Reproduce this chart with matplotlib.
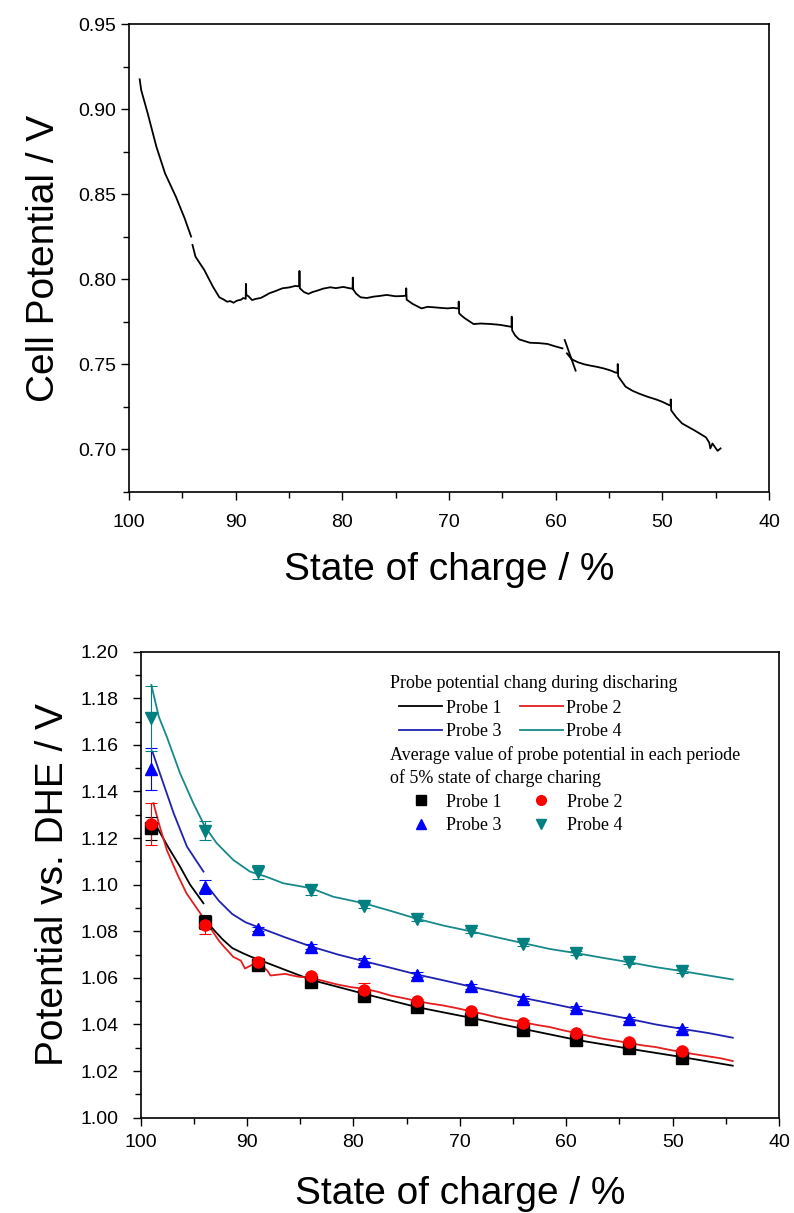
import numpy as np
import matplotlib
matplotlib.use("Agg")
import matplotlib.pyplot as plt
from matplotlib.lines import Line2D
from matplotlib.ticker import MultipleLocator, FormatStrFormatter

nan = np.nan

# ---- top panel: cell potential during discharge ----
cell_soc = [99.0, 98.86, 98.25, 97.43, 96.62, 95.6, 94.79, 94.18, nan,
            94.05, 93.77, 92.95, 92.14, 91.53, 91.1, 90.8, 90.51, 90.2, 89.9,
            89.5, 89.29, 89.06, 89.04, 89.0, 88.8, 88.47, 88.1, 87.66, 87.2,
            86.84, 86.3, 85.62, 85.0, 84.4, 84.05, 84.02, 83.98, 83.6, 83.18,
            82.8, 82.36, 81.8, 81.14, 80.6, 79.92, 79.3, 79.04, 79.02, 78.98,
            78.7, 78.29, 77.7, 77.07, 76.5, 75.85, 75.0, 74.22, 74.03, 74.01,
            73.97, 73.7, 73.4, 72.59, 72.0, 71.37, 70.8, 70.14, 69.6, 69.25,
            69.11, 69.09, 69.05, 68.8, 68.52, 67.7, 67.0, 66.07, 65.2, 64.28,
            64.14, 64.12, 64.08, 63.8, 63.43, 62.41, 61.6, 60.78, 60.0, 59.36,
            nan, 59.15, 58.13, nan,
            58.95, 58.5, 57.9, 57.3, 56.7, 56.1, 55.48, 54.9, 54.34, 54.2,
            54.18, 54.14, 53.8, 53.45, 52.8, 52.22, 51.4, 50.59, 50.0, 49.37,
            49.23, 49.21, 49.17, 48.7, 48.15, 47.5, 46.93, 46.4, 45.91, 45.6,
            45.5, 45.3, 44.82, 44.54]
cell_v = [0.9175, 0.9112, 0.8975, 0.8778, 0.8622, 0.8484, 0.8359, 0.8251, nan,
          0.8202, 0.8133, 0.8055, 0.7957, 0.7894, 0.7880, 0.7868, 0.7872, 0.7862, 0.7874,
          0.7880, 0.7890, 0.7885, 0.7973, 0.7908, 0.7900, 0.7878, 0.7885, 0.7890, 0.7905,
          0.7918, 0.7930, 0.7947, 0.7952, 0.7961, 0.7958, 0.8049, 0.7947, 0.7925, 0.7914,
          0.7925, 0.7933, 0.7945, 0.7953, 0.7948, 0.7955, 0.7947, 0.7945, 0.8010, 0.7940,
          0.7915, 0.7894, 0.7890, 0.7898, 0.7902, 0.7908, 0.7900, 0.7902, 0.7905, 0.7947,
          0.7880, 0.7868, 0.7855, 0.7829, 0.7838, 0.7835, 0.7832, 0.7829, 0.7832, 0.7829,
          0.7830, 0.7869, 0.7800, 0.7785, 0.7771, 0.7737, 0.7740, 0.7737, 0.7732, 0.7722,
          0.7720, 0.7780, 0.7700, 0.7670, 0.7647, 0.7627, 0.7625, 0.7620, 0.7605, 0.7594,
          nan, 0.7643, 0.7463, nan,
          0.7565, 0.7530, 0.7512, 0.7500, 0.7492, 0.7485, 0.7476, 0.7465, 0.7451, 0.7450,
          0.7502, 0.7430, 0.7400, 0.7369, 0.7345, 0.7329, 0.7310, 0.7294, 0.7280, 0.7261,
          0.7258, 0.7294, 0.7230, 0.7190, 0.7153, 0.7130, 0.7110, 0.7090, 0.7071, 0.7040,
          0.7006, 0.7035, 0.6992, 0.7006]

# ---- bottom panel: probe potentials ----
p1_soc = [98.5, 97.4, 96.3, 95.36, 94.1, nan, 94.0, 93.5, 93.07, 92.3, 91.4,
          90.5, 89.76, 87.27, 83.95, 78.97, 74.0, 69.02, 64.05, 59.07, 54.1,
          49.12, 44.35]
p1_v = [1.1249, 1.1160, 1.1077, 1.1000, 1.0920, nan, 1.0845, 1.0825, 1.0803,
        1.0765, 1.0728, 1.0708, 1.0693, 1.0649, 1.0591, 1.0531, 1.0474, 1.0429,
        1.0381, 1.0334, 1.0296, 1.0260, 1.0223]

p2_soc = [98.8, 98.3, 97.55, 96.6, 95.7, 94.4, 93.7, 92.66, 92.2, 91.83,
          91.3, 90.59, 90.2, 89.34, 88.6, 88.1, 87.8, 86.44, 85.2, 83.95,
          82.7, 81.46, 80.2, 78.97, 77.7, 76.49, 75.2, 74.0, 72.8, 71.51,
          70.3, 69.02, 67.8, 66.53, 65.3, 64.05, 62.8, 61.56, 60.3, 59.07,
          57.8, 56.58, 55.3, 54.1, 52.8, 51.6, 50.4, 49.12, 47.9, 46.63,
          45.5, 44.35]
p2_v = [1.1350, 1.1264, 1.1149, 1.1049, 1.0963, 1.0877, 1.0831, 1.0760, 1.0735,
        1.0717, 1.0690, 1.0674, 1.0640, 1.0660, 1.0652, 1.0631, 1.0610, 1.0617,
        1.0605, 1.0600, 1.0585, 1.0571, 1.0560, 1.0553, 1.0540, 1.0524, 1.0512,
        1.0500, 1.0490, 1.0481, 1.0470, 1.0457, 1.0445, 1.0431, 1.0420, 1.0410,
        1.0398, 1.0389, 1.0375, 1.0363, 1.0350, 1.0339, 1.0330, 1.0320, 1.0310,
        1.0303, 1.0292, 1.0281, 1.0272, 1.0263, 1.0255, 1.0243]

p3_soc = [98.9, 98.2, 96.9, 95.65, 94.1, nan, 93.9, 92.66, 91.4, 90.17, 88.93,
          86.44, 83.95, 81.46, 78.97, 76.49, 74.0, 71.51, 69.02, 66.53, 64.05,
          61.56, 59.07, 56.58, 54.1, 51.6, 49.12, 46.63, 44.35]
p3_v = [1.1571, 1.1478, 1.1306, 1.1163, 1.1056, nan, 1.1003, 1.0931, 1.0874,
        1.0839, 1.0817, 1.0774, 1.0734, 1.0700, 1.0671, 1.0643, 1.0614, 1.0589,
        1.0563, 1.0539, 1.0514, 1.0491, 1.0467, 1.0446, 1.0424, 1.0400, 1.0381,
        1.0363, 1.0343]

p4_soc = [99.0, 98.3, 97.55, 96.3, 95.05, 93.96, 92.86, 91.3, 89.73, 88.2,
          86.6, 84.0, 81.9, 79.0, 76.26, 74.0, 71.51, 69.02, 66.53, 64.05,
          61.56, 59.07, 56.58, 54.1, 51.6, 49.12, 46.63, 44.35]
p4_v = [1.1857, 1.1721, 1.1635, 1.1478, 1.1349, 1.1249, 1.1178, 1.1106, 1.1056,
        1.1034, 1.1006, 1.0985, 1.0948, 1.0920, 1.0884, 1.0853, 1.0824, 1.0800,
        1.0774, 1.0749, 1.0724, 1.0706, 1.0686, 1.0667, 1.0646, 1.0629, 1.0610,
        1.0593]

# averages over each 5 % SOC period
avg_soc = [99.0, 94.0, 89.0, 84.0, 79.0, 74.0, 69.0, 64.1, 59.1, 54.1, 49.1]
avg1 = [1.1242, 1.0839, 1.0653, 1.0584, 1.0524, 1.0474, 1.0424, 1.0377, 1.0334, 1.0299, 1.0256]
avg2 = [1.1260, 1.0827, 1.0667, 1.0606, 1.0549, 1.0500, 1.0457, 1.0407, 1.0364, 1.0324, 1.0286]
avg3 = [1.1497, 1.0991, 1.0810, 1.0734, 1.0674, 1.0613, 1.0563, 1.0510, 1.0470, 1.0424, 1.0381]
avg4 = [1.1714, 1.1232, 1.1053, 1.0977, 1.0910, 1.0853, 1.0803, 1.0746, 1.0706, 1.0670, 1.0629]
err1 = [0.005, 0.003, 0.002, 0.001, 0.001, 0.001, 0.001, 0.001, 0.001, 0.001, 0.001]
err2 = [0.009, 0.004, 0.002, 0.001, 0.003, 0.001, 0.001, 0.001, 0.001, 0.001, 0.001]
err3 = [0.009, 0.003, 0.001, 0.001, 0.001, 0.001, 0.001, 0.001, 0.001, 0.001, 0.001]
err4 = [0.014, 0.004, 0.003, 0.002, 0.001, 0.001, 0.001, 0.001, 0.001, 0.001, 0.001]

plt.rcParams['font.family'] = ['Liberation Sans', 'DejaVu Sans']

fig = plt.figure(figsize=(7.94, 12.13), dpi=100)


def style_axis(ax, xpad, ypad):
    ax.tick_params(which='both', direction='out', top=False, right=False,
                   labelsize=14, width=1.0)
    ax.tick_params(which='major', length=6)
    ax.tick_params(which='minor', length=4)
    ax.tick_params(axis='x', which='both', pad=xpad)
    ax.tick_params(axis='y', which='both', pad=ypad)
    for s in ax.spines.values():
        s.set_linewidth(1.2)
    ax.set_xlim(100, 40)
    ax.xaxis.set_major_locator(MultipleLocator(10))
    ax.xaxis.set_minor_locator(MultipleLocator(5))


# top
ax1 = fig.add_axes([0.1625, 0.5944, 0.806, 0.3858])
ax1.plot(cell_soc, cell_v, color='black', lw=1.3)
style_axis(ax1, 10, 3)
ax1.set_ylim(0.675, 0.95)
ax1.yaxis.set_major_locator(MultipleLocator(0.05))
ax1.yaxis.set_minor_locator(MultipleLocator(0.025))
ax1.yaxis.set_major_formatter(FormatStrFormatter('%.2f'))
ax1.set_xlabel("State of charge / %", fontsize=28, labelpad=15)
ax1.set_ylabel("Cell Potential / V", fontsize=28, labelpad=12)

# bottom
ax2 = fig.add_axes([0.1772, 0.0786, 0.804, 0.3842])
line_cols = ['#000000', '#e41e1e', '#1f22b0', '#17898a']
mark_cols = ['#000000', '#ff0000', '#0000ff', '#008080']
ax2.plot(p1_soc, p1_v, color=line_cols[0], lw=1.3)
ax2.plot(p2_soc, p2_v, color=line_cols[1], lw=1.3)
ax2.plot(p3_soc, p3_v, color=line_cols[2], lw=1.3)
ax2.plot(p4_soc, p4_v, color=line_cols[3], lw=1.3)

markers = ['s', 'o', '^', 'v']
for avg, err, m, c in zip([avg1, avg2, avg3, avg4], [err1, err2, err3, err4],
                          markers, mark_cols):
    ax2.errorbar(avg_soc, avg, yerr=err, fmt=m, color=c, ms=8, mec=c,
                 ecolor=c, elinewidth=0.8, capsize=4, capthick=0.8)

style_axis(ax2, 6, 10)
ax2.set_ylim(1.00, 1.20)
ax2.yaxis.set_major_locator(MultipleLocator(0.02))
ax2.yaxis.set_minor_locator(MultipleLocator(0.01))
ax2.yaxis.set_major_formatter(FormatStrFormatter('%.2f'))
ax2.set_xlabel("State of charge / %", fontsize=28, labelpad=18)
ax2.set_ylabel("Potential vs. DHE / V", fontsize=28, labelpad=7)

# legend block
serif = ['Liberation Serif', 'DejaVu Serif']
fs = 13
ax2.text(0.39, 0.931, "Probe potential chang during discharing", transform=ax2.transAxes,
         fontsize=fs, family=serif, va='center', ha='left')
ax2.text(0.39, 0.777, "Average value of probe potential in each periode",
         transform=ax2.transAxes, fontsize=fs, family=serif, va='center', ha='left')
ax2.text(0.39, 0.729, "of 5% state of charge charing", transform=ax2.transAxes,
         fontsize=fs, family=serif, va='center', ha='left')

line_handles = [Line2D([], [], color=line_cols[i], lw=1.3) for i in (0, 2, 1, 3)]
line_labels = ["Probe 1", "Probe 3", "Probe 2", "Probe 4"]
leg1 = ax2.legend(line_handles, line_labels, ncol=2, loc='upper left',
                  bbox_to_anchor=(0.4045, 0.897), frameon=False,
                  prop={'family': serif, 'size': fs}, handlelength=2.4,
                  handletextpad=0.2, columnspacing=1.0, labelspacing=0.35,
                  borderpad=0, borderaxespad=0)
ax2.add_artist(leg1)

mark_handles = [Line2D([], [], ls='none', marker=markers[i], color=mark_cols[i], ms=7)
                for i in (0, 2, 1, 3)]
ax2.legend(mark_handles, line_labels, ncol=2, loc='upper left',
           bbox_to_anchor=(0.416, 0.695), frameon=False,
           prop={'family': serif, 'size': fs}, handlelength=1.6,
           handletextpad=0.6, columnspacing=1.4, labelspacing=0.35,
           borderpad=0, borderaxespad=0)

fig.savefig("out.png", dpi=100)
